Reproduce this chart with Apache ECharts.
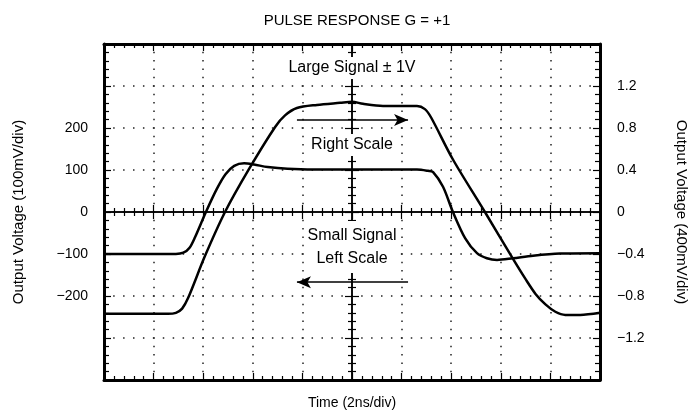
<!DOCTYPE html>
<html>
<head>
<meta charset="utf-8">
<title>Pulse Response</title>
<script src="https://cdn.jsdelivr.net/npm/echarts@6/dist/echarts.min.js"></script>
<style>
  html, body { margin: 0; padding: 0; background: #fff; }
  #main { width: 695px; height: 418px; }
</style>
</head>
<body>
<div id="main"></div>
<script>
// time in ns relative to screen centre (2ns/div, 10 div)
const smallT = [-10, -7.74, -7.10, -6.80, -6.55, -6.33, -5.89, -5.45, -5.10, -4.75, -4.35, -3.95, -3.40, -2.60, -1.00, 1.00, 2.62, 3.06, 3.27, 3.67, 4.07, 4.56, 5.04, 5.44, 5.85, 6.49, 7.30, 8.39, 10]
// small signal, mV (left scale)
const smallMv = [-100, -100, -100, -97, -85, -60, 0, 55, 90, 110, 116, 113, 107, 103, 101, 101, 101, 98, 95, 60, 0, -62, -98, -110, -114, -110, -104, -99, -98]

const largeT = [-10, -7.42, -7.10, -6.85, -6.61, -5.93, -5.12, -4.15, -3.10, -2.70, -2.22, -1.41, -0.48, 0, 0.44, 1.25, 2.62, 2.94, 3.19, 4.07, 5.36, 6.45, 7.00, 7.40, 7.80, 8.20, 8.60, 9.20, 10]
// large signal, V (right scale)
const largeV = [-0.97, -0.97, -0.96, -0.92, -0.82, -0.42, 0, 0.41, 0.81, 0.92, 0.99, 1.02, 1.04, 1.05, 1.03, 1.01, 1.01, 0.98, 0.90, 0.50, 0, -0.43, -0.64, -0.78, -0.88, -0.95, -0.98, -0.98, -0.96]

const leftTicks = [-200, -100, 0, 100, 200]
const rightTicks = [-1.2, -0.8, -0.4, 0, 0.4, 0.8, 1.2]

const FONT = 'Liberation Sans, Arial, sans-serif'
const MINUS = '\u2212'

function fmt(v, digits) {
  if (v === 0) return '0'
  const s = Math.abs(v).toFixed(digits)
  return v < 0 ? MINUS + s : s
}

// border axis (thick frame with inside ticks)
function frameX(pos, extra) {
  return Object.assign({
    type: 'value', position: pos, min: -10, max: 10, interval: 2,
    axisLine: { onZero: false, lineStyle: { color: '#000', width: 3 } },
    axisTick: { show: true, inside: true, length: 7, lineStyle: { color: '#000', width: 1.2 } },
    minorTick: { show: true, splitNumber: 5, length: 4, lineStyle: { color: '#000', width: 1.2 } },
    axisLabel: { show: false },
    splitLine: { show: false }
  }, extra || {})
}
// centre line with ticks on one side
function centreX(inside) {
  return {
    type: 'value', position: 'bottom', min: -10, max: 10, interval: 2,
    axisLine: { onZero: true, onZeroAxisIndex: 0, lineStyle: { color: '#000', width: 1.5 } },
    axisTick: { show: true, inside: inside, length: 7, lineStyle: { color: '#000', width: 1.2 } },
    minorTick: { show: true, splitNumber: 5, length: 4, lineStyle: { color: '#000', width: 1.2 } },
    axisLabel: { show: false },
    splitLine: { show: false }
  }
}
function centreY(inside) {
  return {
    type: 'value', position: 'left', min: -400, max: 400, interval: 100,
    axisLine: { onZero: true, onZeroAxisIndex: 0, lineStyle: { color: '#000', width: 1.5 } },
    axisTick: { show: true, inside: inside, length: 7, lineStyle: { color: '#000', width: 1.2 } },
    minorTick: { show: true, splitNumber: 5, length: 4, lineStyle: { color: '#000', width: 1.2 } },
    axisLabel: { show: false },
    splitLine: { show: false }
  }
}

const chart = echarts.init(document.getElementById('main'))

chart.setOption({
  animation: false,
  textStyle: { fontFamily: FONT },
  title: {
    text: 'PULSE RESPONSE G = +1',
    left: 352, top: 8, textAlign: 'center',
    textStyle: { fontFamily: FONT, fontSize: 15, fontWeight: 'normal', color: '#000' }
  },
  grid: { left: 104, top: 44, right: 95, bottom: 38, containLabel: false, outerBoundsMode: 'none' },
  xAxis: [
    frameX('bottom', {
      name: 'Time (2ns/div)', nameLocation: 'middle', nameGap: 16,
      nameTextStyle: { fontFamily: FONT, fontSize: 14, color: '#000' },
      splitLine: { show: true, lineStyle: { color: '#222', width: 1.5, type: [1.5, 6.9], dashOffset: 0.75 } }
    }),
    frameX('top'),
    centreX(true),
    centreX(false)
  ],
  yAxis: [
    {
      type: 'value', position: 'left', min: -400, max: 400, interval: 100,
      name: 'Output Voltage (100mV/div)', nameLocation: 'middle', nameGap: 78, nameRotate: 90,
      nameTextStyle: { fontFamily: FONT, fontSize: 15, color: '#000' },
      axisLine: { onZero: false, lineStyle: { color: '#000', width: 3 } },
      axisTick: { show: true, inside: true, length: 7, lineStyle: { color: '#000', width: 1.2 } },
      minorTick: { show: true, splitNumber: 5, length: 5, lineStyle: { color: '#000', width: 1.2 } },
      axisLabel: {
        margin: 16, fontSize: 14, color: '#000', fontFamily: FONT,
        formatter: v => leftTicks.indexOf(v) >= 0 ? fmt(v, 0) : ''
      },
      splitLine: { show: true, lineStyle: { color: '#222', width: 1.5, type: [1.5, 8.42], dashOffset: 0.75 } }
    },
    {
      type: 'value', position: 'right', min: -1.6, max: 1.6, interval: 0.4,
      name: 'Output Voltage (400mV/div)', nameLocation: 'middle', nameGap: 74, nameRotate: -90,
      nameTextStyle: { fontFamily: FONT, fontSize: 15, color: '#000' },
      axisLine: { onZero: false, lineStyle: { color: '#000', width: 3 } },
      axisTick: { show: true, inside: true, length: 7, lineStyle: { color: '#000', width: 1.2 } },
      minorTick: { show: true, splitNumber: 5, length: 5, lineStyle: { color: '#000', width: 1.2 } },
      axisLabel: {
        margin: 17, fontSize: 14, color: '#000', fontFamily: FONT,
        formatter: v => rightTicks.some(t => Math.abs(t - v) < 1e-6) ? fmt(v, v === 0 ? 0 : 1) : ''
      },
      splitLine: { show: false }
    },
    centreY(true),
    centreY(false)
  ],
  graphic: [
    { type: 'text', x: 352, y: 68, z: 100, style: { text: 'Large Signal \u00b1 1V', font: '16px ' + FONT, fill: '#000', align: 'center', verticalAlign: 'middle', backgroundColor: '#fff', padding: [3, 2] } },
    { type: 'text', x: 352, y: 145, z: 100, style: { text: 'Right Scale', font: '16px ' + FONT, fill: '#000', align: 'center', verticalAlign: 'middle', backgroundColor: '#fff', padding: [3, 2] } },
    { type: 'text', x: 352, y: 247, z: 100, style: { text: 'Small Signal\nLeft Scale', font: '16px ' + FONT, lineHeight: 23, fill: '#000', align: 'center', verticalAlign: 'middle', backgroundColor: '#fff', padding: [3, 2] } }
  ],
  series: [
    {
      name: 'Small Signal', type: 'line', xAxisIndex: 0, yAxisIndex: 0,
      data: smallT.map((t, i) => [t, smallMv[i]]),
      showSymbol: false, smooth: 0.3, silent: true,
      lineStyle: { color: '#000', width: 2.5 },
      markLine: {
        silent: true, symbol: ['none', 'arrow'], symbolSize: [9, 14],
        label: { show: false },
        lineStyle: { color: '#000', width: 1.5, type: 'solid' },
        data: [[{ coord: [2.26, -167] }, { coord: [-2.22, -167] }]]
      }
    },
    {
      name: 'Large Signal', type: 'line', xAxisIndex: 0, yAxisIndex: 1,
      data: largeT.map((t, i) => [t, largeV[i]]),
      showSymbol: false, smooth: 0.3, silent: true,
      lineStyle: { color: '#000', width: 2.5 },
      markLine: {
        silent: true, symbol: ['none', 'arrow'], symbolSize: [9, 14],
        label: { show: false },
        lineStyle: { color: '#000', width: 1.5, type: 'solid' },
        data: [[{ coord: [-2.22, 0.876] }, { coord: [2.26, 0.876] }]]
      }
    }
  ]
})
</script>
</body>
</html>
